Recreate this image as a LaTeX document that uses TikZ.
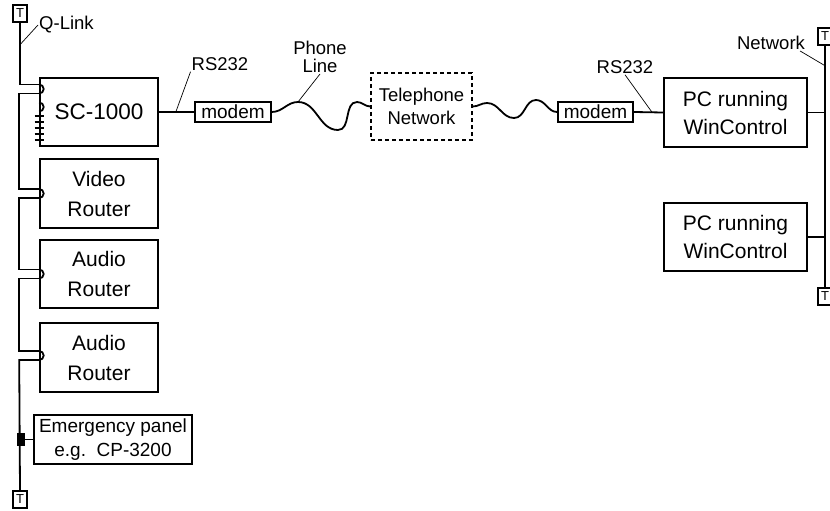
\documentclass[tikz,border=0pt]{standalone}
\usepackage{fontspec}
\setmainfont{Liberation Sans}
\usetikzlibrary{positioning}
\tikzset{
  unitbox/.style={draw,line width=1.6pt,align=center,inner sep=0pt,
    minimum width=118pt,minimum height=68pt,font=\fontsize{21}{30}\selectfont},
  pcbox/.style={unitbox,minimum width=143pt,font=\fontsize{21}{28}\selectfont},
  modembox/.style={draw,line width=1.6pt,inner sep=0pt,minimum width=76pt,
    minimum height=20pt,font=\fontsize{19}{20}\selectfont},
  netbox/.style={draw,dash pattern=on 4pt off 3pt,line width=1.4pt,align=center,
    inner sep=0pt,minimum width=101pt,minimum height=67pt,
    font=\fontsize{18.5}{23}\selectfont},
  endbox/.style={draw,line width=1.4pt,inner sep=0pt,minimum width=14pt,
    minimum height=17pt,font=\fontsize{13}{13}\selectfont},
  tag/.style={inner sep=1pt,align=center,font=\fontsize{18.5}{18}\selectfont},
  wire/.style={line width=1.8pt},
  leader/.style={line width=0.7pt}
}
\begin{document}
\begin{tikzpicture}[x=1pt,y=-1pt]
\path[use as bounding box,fill=white] (0,0) rectangle (830,511);
\node[unitbox,font=\fontsize{22.5}{26}\selectfont] (sc) at (99,112) {SC-1000};
\node[unitbox,minimum height=69pt] (video) at (99,193.5) {Video\\Router};
\node[unitbox] (audioA) at (99,274) {Audio\\Router};
\node[unitbox,minimum height=69pt] (audioB) at (99,357.5) {Audio\\Router};
\node[unitbox,minimum width=158pt,minimum height=49pt,
  font=\fontsize{19}{24}\selectfont] (panel) at (113,439.5) {Emergency panel\\e.g.\ \ CP-3200};
\node[modembox] (modemL) at (233,112) {modem};
\node[netbox] (telnet) at (421.5,106.5) {Telephone\\Network};
\node[modembox,minimum width=75pt] (modemR) at (595.5,112) {modem};
\node[pcbox,minimum height=69pt] (pcA) at (735.5,112.5) {PC running\\WinControl};
\node[pcbox] (pcB) at (735.5,237) {PC running\\WinControl};
\node[endbox] (qTop) at (20,13.5) {T};
\node[endbox] (qEnd) at (20,499.5) {T};
\node[endbox] (nTop) at (825,36.5) {T};
\node[endbox] (nEnd) at (825,296.5) {T};

\node[tag,anchor=west] (qlink) at (38,25) {Q-Link};
\node[tag] (rsL) at (220,64) {RS232};
\node[tag] (phone) at (320,57) {Phone\\Line};
\node[tag] (rsR) at (625,67) {RS232};
\node[tag] (netlbl) at (771,43) {Network};

\coordinate (scP) at ([yshift=23pt]sc.west);
\coordinate (videoP) at (video.west);
\coordinate (audioAP) at (audioA.west);
\coordinate (audioBP) at ([yshift=2pt]audioB.west);
\foreach \p in {scP,videoP,audioAP,audioBP}
  \draw[wire] ([yshift=4.5pt]\p) arc[start angle=90,end angle=-90,radius=4.5pt];
\draw[wire] ([yshift=9.5pt]sc.west) arc[start angle=90,end angle=-90,radius=4.5pt];
\foreach \dy in {4,10,...,28}
  \draw[wire] ([xshift=-4.5pt,yshift=-\dy pt]sc.west) -- ++(9,0);

\draw[wire] (qTop.south) |- ([yshift=4.5pt]scP);
\draw[wire] ([yshift=-4.5pt]scP) -- ++(-20,0) |- ([yshift=4.5pt]videoP);
\draw[wire] ([yshift=-4.5pt]videoP) -- ++(-20,0) |- ([yshift=4.5pt]audioAP);
\draw[wire] ([yshift=-4.5pt]audioAP) -- ++(-20,0) |- ([yshift=4.5pt]audioBP);
\draw[wire] ([yshift=-4.5pt]audioBP) -- ++(-20,0) -- (qEnd.north);
\coordinate (tap) at (qEnd |- panel.west);
\fill ([xshift=-3pt,yshift=6.5pt]tap) rectangle ([xshift=5pt,yshift=-6.5pt]tap);
\draw[wire] (tap) -- (panel.west);

\draw[wire] (nTop.south) -- (nEnd.north);
\draw[wire] (pcA.east) -- (pcA.east -| nTop);
\draw[wire] (pcB.east) -- (pcB.east -| nTop);
\draw[wire] (sc.east) -- (modemL.west);
\draw[wire] (modemR.east) -- (pcA.west);

\coordinate (lineHi) at (298,102);
\coordinate (lineLo) at (338,130);
\coordinate (lineHiB) at (357,102);
\coordinate (netHi) at (487,103);
\coordinate (netLo) at (514,118);
\coordinate (netHiB) at (536,100);
\draw[wire] (modemL.east) to[out=0,in=180] (lineHi) to[out=0,in=180] (lineLo)
  to[out=0,in=180] (lineHiB) to[out=0,in=180] (telnet.west);
\draw[wire] (telnet.east) to[out=0,in=180] (netHi) to[out=0,in=180] (netLo)
  to[out=0,in=180] (netHiB) to[out=0,in=180] (modemR.west);

\draw[leader] ([yshift=-22pt]qTop.south) -- (qlink.west);
\draw[leader] ([xshift=17pt]sc.east) -- (rsL.south west);
\draw[leader] (lineHi) -- (phone.south);
\draw[leader] ([xshift=-11pt]pcA.west) -- (rsR.south);
\draw[leader] ([yshift=-20pt]nTop.south) -- ([xshift=-6pt]netlbl.south east);
\end{tikzpicture}
\end{document}
